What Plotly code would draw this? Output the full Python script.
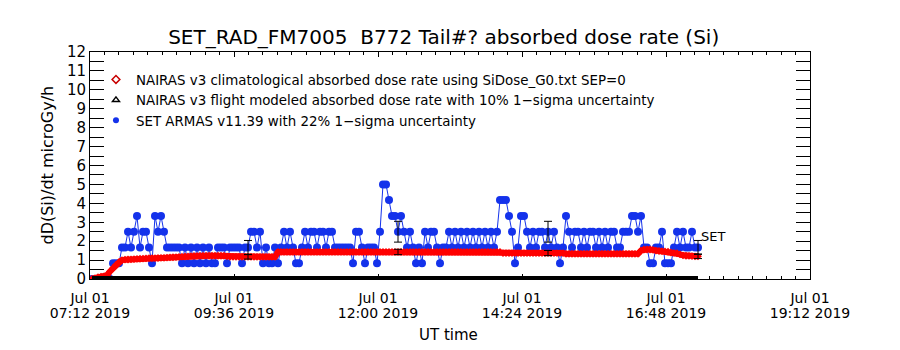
import pandas as pd
import plotly.graph_objects as go

# ---------------- data ----------------
chart_title = "SET_RAD_FM7005  B772 Tail#? absorbed dose rate (Si)"

x_tick_times = ["2019-07-01 07:12", "2019-07-01 09:36", "2019-07-01 12:00",
                "2019-07-01 14:24", "2019-07-01 16:48", "2019-07-01 19:12"]
x_tick_date = ["Jul 01", "Jul 01", "Jul 01", "Jul 01", "Jul 01", "Jul 01"]
x_tick_clock = ["07:12 2019", "09:36 2019", "12:00 2019",
                "14:24 2019", "16:48 2019", "19:12 2019"]
y_tick_values = [0, 1, 2, 3, 4, 5, 6, 7, 8, 9, 10, 11, 12]

sample_start = "2019-07-01 07:14"
sample_step = "3min"

# SET ARMAS v11.39 absorbed dose rate (microGy/h), one value per 3-min sample
armas_dose = [
    0, 0, 0, 0, 0, 0, 0, 0.83, 0.83, 0.83,
    1.67, 1.67, 2.5, 1.67, 2.5, 3.33, 1.67, 2.5, 2.5, 1.67,
    0.83, 3.33, 2.5, 3.33, 2.5, 1.67, 1.67, 1.67, 1.67, 1.67,
    0.83, 1.67, 0.83, 1.67, 0.83, 1.67, 0.83, 1.67, 0.83, 1.67,
    0.83, 0.83, 1.67, 1.67, 1.67, 0.83, 1.67, 1.67, 1.67, 1.67,
    0.83, 1.67, 1.67, 2.5, 2.5, 1.67, 2.5, 0.83, 1.67, 0.83,
    0.83, 1.67, 0.83, 1.67, 2.5, 1.67, 2.5, 1.67, 0.83, 0.83,
    1.67, 2.5, 1.67, 2.5, 2.5, 1.67, 2.5, 2.5, 1.67, 2.5,
    2.5, 1.67, 1.67, 1.67, 1.67, 1.67, 1.67, 0.83, 2.5, 2.5,
    1.67, 0.83, 1.67, 1.67, 1.67, 0.83, 2.5, 5.0, 5.0, 4.17,
    3.33, 3.33, 2.5, 3.33, 2.5, 1.67, 2.5, 1.67, 0.83, 1.67,
    0.83, 2.5, 1.67, 2.5, 2.5, 1.67, 0.83, 1.67, 1.67, 2.5,
    1.67, 2.5, 1.67, 2.5, 1.67, 2.5, 1.67, 2.5, 1.67, 2.5,
    1.67, 2.5, 1.67, 2.5, 1.67, 2.5, 4.17, 4.17, 4.17, 3.33,
    2.5, 0.83, 1.67, 3.33, 3.33, 2.5, 1.67, 2.5, 1.67, 2.5,
    2.5, 1.67, 2.5, 1.67, 2.5, 1.67, 0.83, 1.67, 3.33, 2.5,
    1.67, 2.5, 2.5, 1.67, 2.5, 1.67, 2.5, 2.5, 1.67, 2.5,
    1.67, 2.5, 1.67, 2.5, 2.5, 1.67, 1.67, 2.5, 2.5, 2.5,
    3.33, 3.33, 2.5, 3.33, 1.67, 1.67, 0.83, 0.83, 1.67, 1.67,
    2.5, 0.83, 0.83, 0.83, 1.67, 2.5, 1.67, 2.5, 1.67, 1.67,
    2.5, 1.67, 1.67,
]

# NAIRAS v3 climatological absorbed dose rate (microGy/h), same samples
nairas_clim = [
    0.0, 0.05, 0.1, 0.12, 0.14, 0.2, 0.4, 0.58, 0.75, 0.9,
    1.0, 1.02, 1.03, 1.04, 1.05, 1.06, 1.07, 1.08, 1.09, 1.1,
    1.1, 1.1, 1.11, 1.12, 1.12, 1.13, 1.14, 1.15, 1.16, 1.17,
    1.18, 1.19, 1.2, 1.21, 1.22, 1.22, 1.23, 1.23, 1.23, 1.23,
    1.23, 1.23, 1.23, 1.23, 1.23, 1.2, 1.17, 1.17, 1.17, 1.17,
    1.17, 1.17, 1.17, 1.17, 1.17, 1.17, 1.17, 1.17, 1.17, 1.17,
    1.17, 1.17, 1.43, 1.43, 1.43, 1.43, 1.43, 1.43, 1.43, 1.43,
    1.43, 1.43, 1.43, 1.43, 1.43, 1.43, 1.43, 1.43, 1.43, 1.43,
    1.43, 1.43, 1.43, 1.43, 1.43, 1.43, 1.43, 1.43, 1.43, 1.43,
    1.43, 1.43, 1.43, 1.43, 1.43, 1.43, 1.43, 1.43, 1.43, 1.43,
    1.43, 1.43, 1.43, 1.43, 1.43, 1.43, 1.43, 1.43, 1.43, 1.43,
    1.43, 1.43, 1.43, 1.43, 1.43, 1.43, 1.43, 1.43, 1.43, 1.43,
    1.43, 1.43, 1.43, 1.43, 1.43, 1.43, 1.43, 1.43, 1.43, 1.43,
    1.43, 1.43, 1.43, 1.43, 1.43, 1.43, 1.43, 1.37, 1.37, 1.37,
    1.37, 1.37, 1.37, 1.37, 1.37, 1.37, 1.37, 1.37, 1.37, 1.37,
    1.37, 1.37, 1.37, 1.37, 1.37, 1.37, 1.37, 1.37, 1.33, 1.33,
    1.33, 1.33, 1.33, 1.33, 1.33, 1.33, 1.33, 1.33, 1.33, 1.33,
    1.33, 1.33, 1.33, 1.33, 1.33, 1.33, 1.33, 1.33, 1.33, 1.33,
    1.33, 1.33, 1.33, 1.5, 1.56, 1.56, 1.56, 1.54, 1.5, 1.48,
    1.47, 1.46, 1.44, 1.4, 1.38, 1.36, 1.3, 1.25, 1.23, 1.22,
    1.21, 1.2, 1.2,
]

# NAIRAS v3 flight modeled absorbed dose rate (microGy/h)
flight_times = ["2019-07-01 07:14", "2019-07-01 08:00", "2019-07-01 09:00",
                "2019-07-01 10:00", "2019-07-01 11:00", "2019-07-01 12:00",
                "2019-07-01 13:00", "2019-07-01 14:00", "2019-07-01 15:00",
                "2019-07-01 16:00", "2019-07-01 17:00", "2019-07-01 17:20"]
nairas_flight = [0, 0, 0, 0, 0, 0, 0, 0, 0, 0, 0, 0]

# samples carrying 1-sigma error bars
error_samples = [52, 102, 152, 202]
armas_sigma_pct = 22
nairas_sigma_pct = 10

legend_names = [
    "NAIRAS v3 climatological absorbed dose rate using SiDose_G0.txt SEP=0",
    "NAIRAS v3 flight modeled absorbed dose rate with 10% 1\u2212sigma uncertainty",
    "SET ARMAS v11.39 with 22% 1\u2212sigma uncertainty",
]

# ---------------- figure ----------------
times = pd.date_range(sample_start, periods=len(armas_dose), freq=sample_step)
BLUE = "rgb(20,50,235)"
RED = "rgb(255,0,0)"

fig = go.Figure()

fig.add_trace(go.Scatter(
    x=times, y=armas_dose, mode="lines+markers", showlegend=False,
    line=dict(color=BLUE, width=1),
    marker=dict(symbol="circle", size=8, color=BLUE), hoverinfo="skip"))

fig.add_trace(go.Scatter(
    x=times, y=nairas_clim, mode="lines+markers", showlegend=False,
    line=dict(color=RED, width=6),
    marker=dict(symbol="diamond", size=6, color=RED), hoverinfo="skip"))

fig.add_trace(go.Scatter(
    x=pd.to_datetime(flight_times), y=nairas_flight, mode="lines",
    showlegend=False, line=dict(color="black", width=6), hoverinfo="skip"))

err_t = [times[i] for i in error_samples]
fig.add_trace(go.Scatter(
    x=err_t, y=[armas_dose[i] for i in error_samples], mode="markers",
    showlegend=False, marker=dict(size=1, color="rgba(0,0,0,0)"),
    error_y=dict(type="percent", value=armas_sigma_pct, color="black",
                 thickness=1, width=4), hoverinfo="skip"))
fig.add_trace(go.Scatter(
    x=err_t, y=[nairas_clim[i] for i in error_samples], mode="markers",
    showlegend=False, marker=dict(size=1, color="rgba(0,0,0,0)"),
    error_y=dict(type="percent", value=nairas_sigma_pct, color="black",
                 thickness=1, width=4), hoverinfo="skip"))

# legend entries
fig.add_trace(go.Scatter(x=[None], y=[None], mode="markers", name=legend_names[0],
                         marker=dict(symbol="diamond-open", size=6, color="rgb(200,0,0)",
                                     line=dict(width=1.5))))
fig.add_trace(go.Scatter(x=[None], y=[None], mode="markers", name=legend_names[1],
                         marker=dict(symbol="triangle-up-open", size=6, color="black",
                                     line=dict(width=1.5))))
fig.add_trace(go.Scatter(x=[None], y=[None], mode="markers", name=legend_names[2],
                         marker=dict(symbol="circle", size=6, color=BLUE)))

# invisible trace anchoring the second (clock) label axis
fig.add_trace(go.Scatter(x=[x_tick_times[0]], y=[0], xaxis="x2", mode="markers",
                         marker=dict(size=1, color="rgba(0,0,0,0)"),
                         showlegend=False, hoverinfo="skip"))

last_t = times[-1]
fig.add_annotation(x=last_t, y=armas_dose[-1] * (1 + armas_sigma_pct / 100),
                   text="SET", showarrow=False, xanchor="left", yanchor="middle",
                   xshift=1, yshift=4, font=dict(size=13))

fig.add_annotation(xref="paper", yref="paper", x=-0.0597, y=0.5,
                   text="dD(Si)/dt microGy/h", textangle=-90, showarrow=False,
                   xanchor="center", yanchor="middle", font=dict(size=16))
fig.add_annotation(xref="paper", yref="paper", x=0.498, y=-0.245,
                   text="UT time", showarrow=False,
                   xanchor="center", yanchor="middle", font=dict(size=15))

axis_common = dict(showgrid=False, zeroline=False)

fig.update_layout(
    width=900, height=350,
    margin=dict(l=90, r=90, t=52, b=71),
    paper_bgcolor="white", plot_bgcolor="white",
    font=dict(family="DejaVu Sans", size=15, color="black"),
    title=dict(text=chart_title, x=0.493, xanchor="center",
               y=1 - 37 / 350, yanchor="middle", font=dict(size=20)),
    showlegend=True,
    legend=dict(x=0.0083, y=0.946, xanchor="left", yanchor="top",
                bgcolor="rgba(0,0,0,0)", font=dict(size=13.4),
                itemwidth=30, tracegroupgap=0),
    xaxis=dict(type="date", range=[x_tick_times[0], x_tick_times[-1]],
               tickmode="array", tickvals=x_tick_times, ticktext=x_tick_date,
               ticks="inside", ticklen=5, tickcolor="black",
               showline=True, linecolor="black", linewidth=1, mirror="allticks",
               tickfont=dict(size=14), ticklabelstandoff=6,
               minor=dict(ticks="inside", ticklen=3, tickcolor="black",
                          tickmode="linear", tick0=x_tick_times[0], dtick=864000,
                          showgrid=False),
               **axis_common),
    xaxis2=dict(type="date", range=[x_tick_times[0], x_tick_times[-1]],
                overlaying="x", anchor="y", side="bottom",
                tickmode="array", tickvals=x_tick_times, ticktext=x_tick_clock,
                ticks="", showline=False, tickfont=dict(size=14),
                ticklabelstandoff=24, **axis_common),
    yaxis=dict(range=[0, 12], tickmode="array", tickvals=y_tick_values,
               ticks="inside", ticklen=14, tickcolor="black",
               showline=True, linecolor="black", linewidth=1, mirror="allticks",
               tickfont=dict(size=15),
               minor=dict(ticks="inside", ticklen=14, tickcolor="black",
                          tickmode="linear", tick0=0, dtick=0.5, showgrid=False),
               **axis_common),
)

fig.write_html("out.html")
